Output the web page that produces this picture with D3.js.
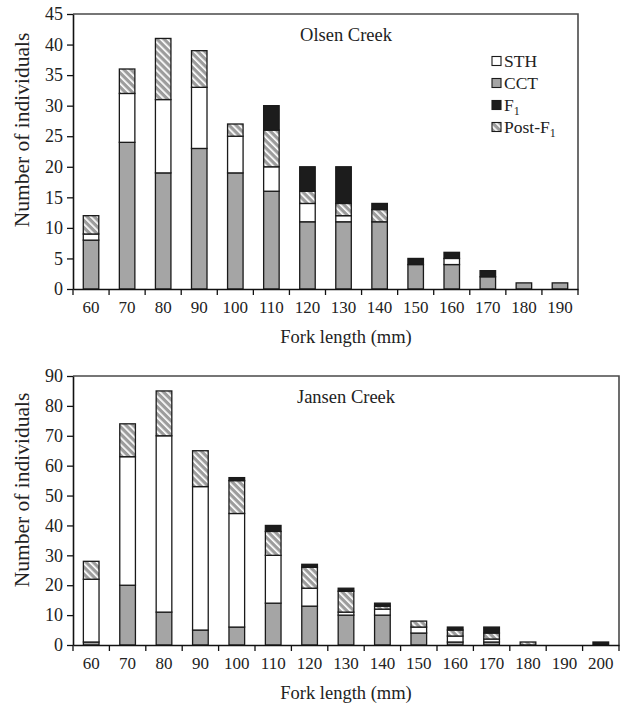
<!DOCTYPE html>
<html>
<head>
<meta charset="utf-8">
<script src="https://cdn.jsdelivr.net/npm/d3@7"></script>
<style>
  html, body { margin: 0; padding: 0; background: #fff; }
  svg { display: block; }
  text { font-family: "Liberation Serif", "Times New Roman", serif; fill: #222; }
</style>
</head>
<body>
<svg id="chart" width="627" height="703"></svg>
<script>
// Fork-length classes (mm)
const olsenLengths = [60, 70, 80, 90, 100, 110, 120, 130, 140, 150, 160, 170, 180, 190];
const jansenLengths = [60, 70, 80, 90, 100, 110, 120, 130, 140, 150, 160, 170, 180, 190, 200];

// Olsen Creek counts per class
const olsenCCT  = [8, 24, 19, 23, 19, 16, 11, 11, 11, 4, 4, 2, 1, 1];
const olsenSTH  = [1, 8, 12, 10, 6, 4, 3, 1, 0, 0, 1, 0, 0, 0];
const olsenPost = [3, 4, 10, 6, 2, 6, 2, 2, 2, 0, 0, 0, 0, 0];
const olsenF1   = [0, 0, 0, 0, 0, 4, 4, 6, 1, 1, 1, 1, 0, 0];

// Jansen Creek counts per class
const jansenCCT  = [1, 20, 11, 5, 6, 14, 13, 10, 10, 4, 1, 1, 0, 0, 0];
const jansenSTH  = [21, 43, 59, 48, 38, 16, 6, 1, 2, 2, 2, 1, 0, 0, 0];
const jansenPost = [6, 11, 15, 12, 11, 8, 7, 7, 1, 2, 2, 2, 1, 0, 0];
const jansenF1   = [0, 0, 0, 0, 1, 2, 1, 1, 1, 0, 1, 2, 0, 0, 1];

const olsenTicks = [0, 5, 10, 15, 20, 25, 30, 35, 40, 45];
const jansenTicks = [0, 10, 20, 30, 40, 50, 60, 70, 80, 90];

const seriesKeys = ["CCT", "STH", "Post", "F1"];   // stacking order, bottom to top
const legendKeys = ["STH", "CCT", "F1", "Post"];

const svg = d3.select("#chart");

// Diagonal hatch used for Post-F1
const defs = svg.append("defs");
const pat = defs.append("pattern")
  .attr("id", "hatch")
  .attr("patternUnits", "userSpaceOnUse")
  .attr("width", 5).attr("height", 5)
  .attr("patternTransform", "rotate(-45)");
pat.append("rect").attr("width", 5).attr("height", 5).attr("fill", "#9c9c9c");
pat.append("rect").attr("x", 0).attr("y", 0).attr("width", 1.7).attr("height", 5).attr("fill", "#fff");

const fills = { CCT: "#a5a5a5", STH: "#ffffff", Post: "url(#hatch)", F1: "#1c1c1c" };

function drawPanel(cfg) {
  const rows = cfg.lengths.map((len, i) => ({
    len, CCT: cfg.CCT[i], STH: cfg.STH[i], Post: cfg.Post[i], F1: cfg.F1[i]
  }));

  const x = d3.scaleBand()
    .domain(cfg.lengths)
    .range([cfg.left, cfg.right])
    .paddingInner(0.57)
    .paddingOuter(0.285);

  const y = d3.scaleLinear()
    .domain([0, cfg.ticks[cfg.ticks.length - 1]])
    .range([cfg.bottom, cfg.top]);

  const g = svg.append("g");

  // frame (top and right)
  g.append("path")
    .attr("d", `M${cfg.left},${cfg.top}H${cfg.right}V${cfg.bottom}`)
    .attr("fill", "none").attr("stroke", "#4a4a4a").attr("stroke-width", 1.6);

  // stacked bars
  const stacked = d3.stack().keys(seriesKeys)(rows);
  stacked.forEach(layer => {
    g.append("g").selectAll("rect")
      .data(layer.filter(d => d[1] > d[0]))
      .join("rect")
      .attr("x", d => x(d.data.len))
      .attr("width", x.bandwidth())
      .attr("y", d => y(d[1]))
      .attr("height", d => y(d[0]) - y(d[1]))
      .attr("fill", fills[layer.key])
      .attr("stroke", "#1a1a1a")
      .attr("stroke-width", 1.3);
  });

  // y axis
  const yAxis = g.append("g")
    .attr("transform", `translate(${cfg.left},0)`)
    .call(d3.axisLeft(y).tickValues(cfg.ticks).tickSize(6).tickSizeOuter(0).tickPadding(4));
  yAxis.select(".domain").attr("stroke", "#111").attr("stroke-width", 1.6);
  yAxis.selectAll(".tick line").attr("stroke", "#111").attr("stroke-width", 1.3);
  yAxis.selectAll(".tick text")
    .style("font-family", "'Liberation Serif', serif")
    .attr("font-size", 18).attr("fill", "#222");

  // x axis: labels centred on bars, ticks on class boundaries
  const xAxis = g.append("g")
    .attr("transform", `translate(0,${cfg.bottom})`)
    .call(d3.axisBottom(x).tickSize(0).tickSizeOuter(0).tickPadding(12));
  xAxis.select(".domain").attr("stroke", "#111").attr("stroke-width", 1.6);
  xAxis.selectAll(".tick text")
    .style("font-family", "'Liberation Serif', serif")
    .attr("font-size", 17).attr("fill", "#222");

  const bounds = d3.range(cfg.lengths.length + 1).map(i => x.range()[0] + i * x.step());
  g.append("g").selectAll("line")
    .data(bounds)
    .join("line")
    .attr("x1", d => d).attr("x2", d => d)
    .attr("y1", cfg.bottom).attr("y2", cfg.bottom + 6)
    .attr("stroke", "#111").attr("stroke-width", 1.3);

  // titles
  g.append("text")
    .attr("x", 346).attr("y", cfg.top + 27)
    .attr("text-anchor", "middle").attr("font-size", 18.5)
    .text(cfg.title);

  g.append("text")
    .attr("x", 346).attr("y", cfg.bottom + 54)
    .attr("text-anchor", "middle").attr("font-size", 18.5)
    .text("Fork length (mm)");

  g.append("text")
    .attr("transform", `translate(29,${cfg.yTitleY}) rotate(-90)`)
    .attr("text-anchor", "middle").attr("font-size", 21.5)
    .text("Number of individuals");

  return g;
}

drawPanel({
  lengths: olsenLengths, CCT: olsenCCT, STH: olsenSTH, Post: olsenPost, F1: olsenF1,
  ticks: olsenTicks, left: 73, right: 578, top: 14, bottom: 289,
  title: "Olsen Creek", yTitleY: 130
});

drawPanel({
  lengths: jansenLengths, CCT: jansenCCT, STH: jansenSTH, Post: jansenPost, F1: jansenF1,
  ticks: jansenTicks, left: 73, right: 619, top: 376, bottom: 645,
  title: "Jansen Creek", yTitleY: 490
});

// legend (Olsen panel)
const legend = svg.append("g").attr("transform", "translate(492,0)");
const legendLabels = { STH: "STH", CCT: "CCT", F1: "F", Post: "Post-F" };
legendKeys.forEach((k, i) => {
  const cy = 61 + i * 22;
  legend.append("rect")
    .attr("x", 0).attr("y", cy - 4.5).attr("width", 9).attr("height", 9)
    .attr("fill", fills[k]).attr("stroke", "#1a1a1a").attr("stroke-width", 1.1);
  const t = legend.append("text")
    .attr("x", 12).attr("y", cy + 6).attr("font-size", 17.5);
  t.append("tspan").text(legendLabels[k]);
  if (k === "F1" || k === "Post") {
    t.append("tspan").attr("font-size", 12).attr("dy", 4).text("1");
  }
});
</script>
</body>
</html>
